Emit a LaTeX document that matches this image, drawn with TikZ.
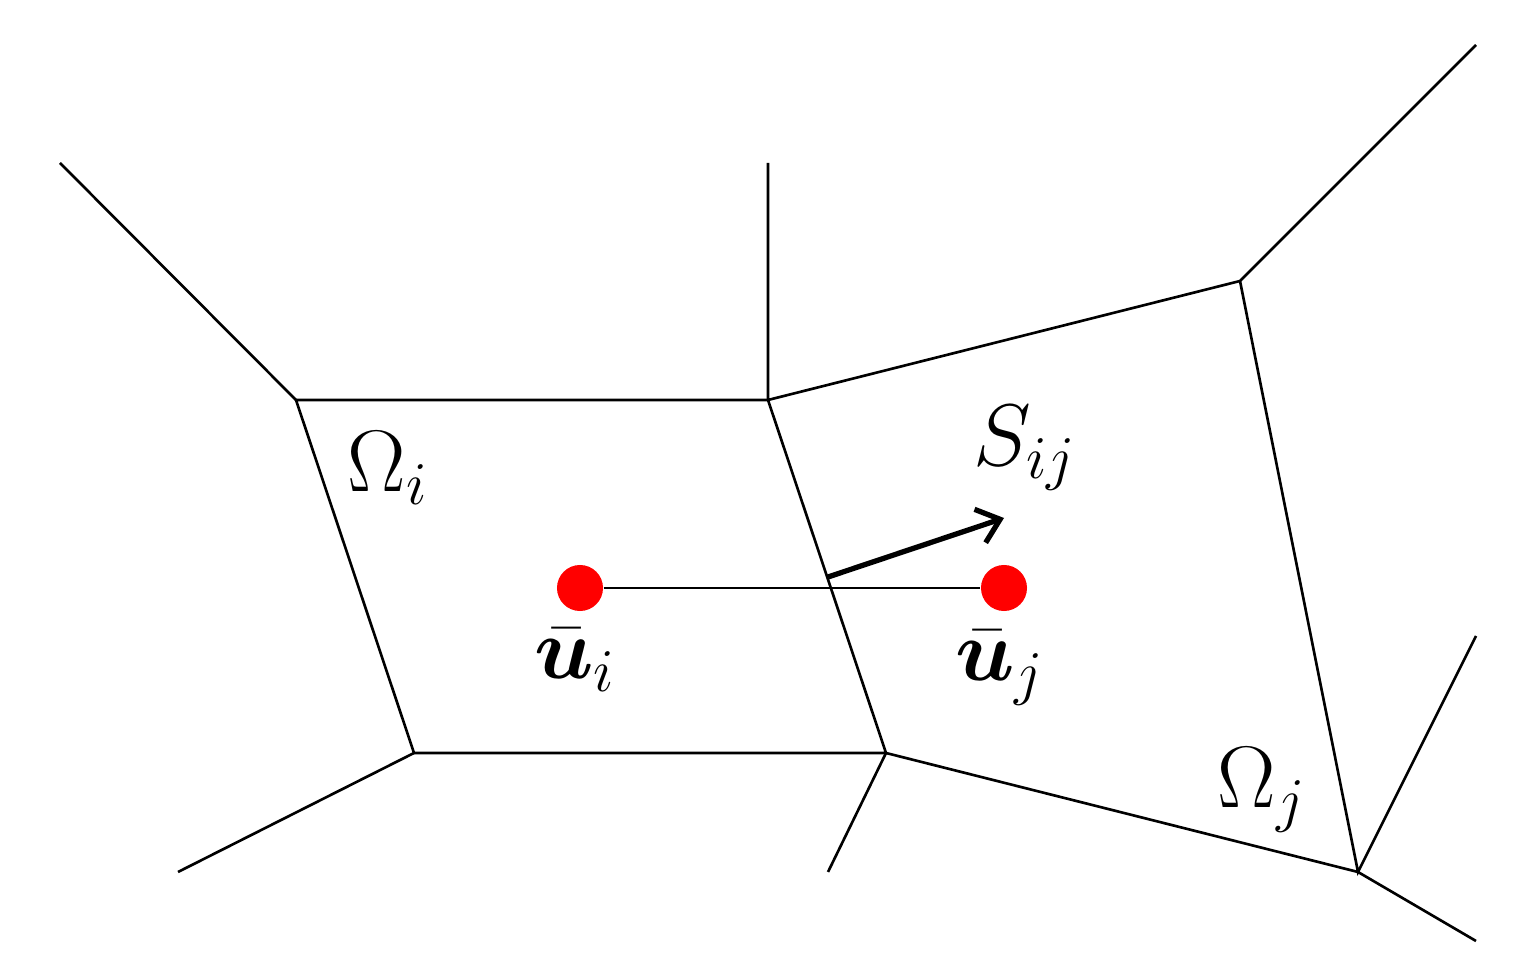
\documentclass[tikz,border=0pt]{standalone}
\usepackage{amsmath,bm}
\usetikzlibrary{arrows.meta}
\begin{document}
\begin{tikzpicture}[x=0.01cm,y=-0.01cm,
  edge/.style={line width=0.75pt},
  dot/.style={circle,fill=red,minimum size=0.46cm,inner sep=0pt},
  lab/.style={font=\fontsize{24}{28}\selectfont}]
\useasboundingbox (0,0) rectangle (1536,980);
\coordinate (A) at (296,400); \coordinate (B) at (768,400);
\coordinate (C) at (886,753); \coordinate (D) at (414,753);
\coordinate (E) at (1240,281); \coordinate (F) at (1358,872);
\coordinate (a1) at (60,163); \coordinate (b1) at (768,163);
\coordinate (e1) at (1476,45); \coordinate (f1) at (1476,636);
\coordinate (f2) at (1476,941); \coordinate (c1) at (828,872);
\coordinate (d1) at (178,872);
\draw[edge] (A)--(B)--(C)--(D)--cycle;
\draw[edge] (A)--(a1) (B)--(b1) (B)--(E)--(e1) (E)--(F)--(f1) (F)--(f2) (C)--(F) (C)--(c1) (D)--(d1);
\node[dot] (ui) at (580,588) {};
\node[dot] (uj) at (1004,588) {};
\draw[edge] (ui)--(uj);
\coordinate (s0) at (828,577); \coordinate (s1) at (1004,518);
\draw[line width=1.5pt,-{Straight Barb[length=6pt,width=10pt]}] (s0)--(s1);
\node[lab] (Oi) at (388,468) {$\Omega_i$};
\node[lab] (S) at (1025,448) {$S_{ij}$};
\node[lab] (lui) at (575,660) {$\bar{\bm{u}}_i$};
\node[lab] (luj) at (1000,668) {$\bar{\bm{u}}_j$};
\node[lab] (Oj) at (1262,790) {$\Omega_j$};
\end{tikzpicture}
\end{document}
